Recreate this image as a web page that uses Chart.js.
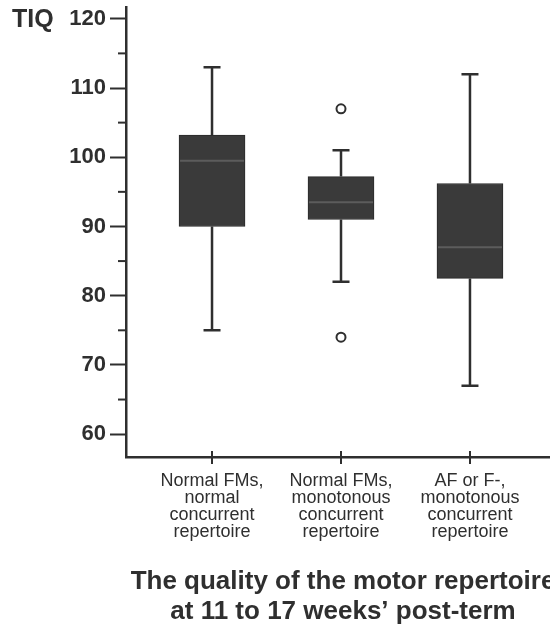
<!DOCTYPE html>
<html>
<head>
<meta charset="utf-8">
<script src="https://cdn.jsdelivr.net/npm/chart.js@4/dist/chart.umd.min.js"></script>
<style>
html,body{margin:0;padding:0;background:#fff;overflow:hidden;}
#wrap{width:572px;height:629px;}
</style>
</head>
<body>
<div id="wrap"><canvas id="c" width="572" height="629"></canvas></div>
<script>
// ---- data ----
const categories = [
  ["Normal FMs,", "normal", "concurrent", "repertoire"],
  ["Normal FMs,", "monotonous", "concurrent", "repertoire"],
  ["AF or F-,", "monotonous", "concurrent", "repertoire"]
];
const whiskerLow  = [75, 82, 67];
const q1          = [90, 91, 82.5];
const medians     = [99.5, 93.5, 87];
const q3          = [103.2, 97.2, 96.2];
const whiskerHigh = [113, 101, 112];
const outlierCategory = [1, 1];
const outlierValues   = [107, 74];
const yTicks      = [60, 70, 80, 90, 100, 110, 120];
const yMinorTicks = [65, 75, 85, 95, 105, 115];
const yLabel = "TIQ";
const xTitle = ["The quality of the motor repertoire", "at 11 to 17 weeks\u2019 post-term"];

const FONT = "'Liberation Sans', Arial, Helvetica, sans-serif";
const INK = '#2f2f2f';

const boxPlugin = {
  id: 'boxExtras',
  beforeDatasetsDraw(chart) {
    const {ctx, scales: {x, y}} = chart;
    ctx.save();
    ctx.strokeStyle = INK;
    ctx.lineWidth = 2.5;
    const capHalf = 8.5;
    categories.forEach((_, i) => {
      const px = x.getPixelForValue(i);
      const yl = y.getPixelForValue(whiskerLow[i]);
      const yh = y.getPixelForValue(whiskerHigh[i]);
      const y1 = y.getPixelForValue(q1[i]);
      const y3 = y.getPixelForValue(q3[i]);
      ctx.beginPath();
      ctx.moveTo(px, yh); ctx.lineTo(px, y3);
      ctx.moveTo(px, y1); ctx.lineTo(px, yl);
      ctx.moveTo(px - capHalf, yh); ctx.lineTo(px + capHalf, yh);
      ctx.moveTo(px - capHalf, yl); ctx.lineTo(px + capHalf, yl);
      ctx.stroke();
    });
    ctx.restore();
  },
  afterDatasetsDraw(chart) {
    const {ctx, scales: {x, y}} = chart;
    const meta = chart.getDatasetMeta(0);
    ctx.save();
    ctx.strokeStyle = '#5c5c5c';
    ctx.lineWidth = 2;
    meta.data.forEach((bar, i) => {
      const half = bar.width / 2;
      const py = y.getPixelForValue(medians[i]);
      ctx.beginPath();
      ctx.moveTo(bar.x - half + 1, py); ctx.lineTo(bar.x + half - 1, py);
      ctx.stroke();
    });
    ctx.restore();
  },
  afterDraw(chart) {
    const {ctx, scales: {x, y}, chartArea} = chart;
    ctx.save();
    ctx.strokeStyle = INK;
    ctx.lineWidth = 2;
    // minor y ticks
    yMinorTicks.forEach(v => {
      const py = y.getPixelForValue(v);
      ctx.beginPath();
      ctx.moveTo(chartArea.left - 8, py); ctx.lineTo(chartArea.left, py);
      ctx.stroke();
    });
    // x category ticks crossing the axis
    categories.forEach((_, i) => {
      const px = x.getPixelForValue(i);
      ctx.beginPath();
      ctx.moveTo(px, chartArea.bottom - 6); ctx.lineTo(px, chartArea.bottom + 7);
      ctx.stroke();
    });
    // y label
    ctx.fillStyle = INK;
    ctx.font = "bold 25px " + FONT;
    ctx.textAlign = 'left';
    ctx.textBaseline = 'middle';
    ctx.fillText(yLabel, 12, y.getPixelForValue(yTicks[yTicks.length - 1]) + 1);
    ctx.restore();
  }
};

new Chart(document.getElementById('c'), {
  type: 'bar',
  data: {
    datasets: [
      {
        type: 'bar',
        data: categories.map((_, i) => ({x: i, y: [q1[i], q3[i]]})),
        backgroundColor: '#3a3a3a',
        borderColor: '#2a2a2a',
        borderWidth: 1,
        borderSkipped: false,
        barThickness: 66
      },
      {
        type: 'scatter',
        data: outlierCategory.map((c, i) => ({x: c, y: outlierValues[i]})),
        pointStyle: 'circle',
        pointRadius: 4.5,
        borderWidth: 2,
        borderColor: INK,
        backgroundColor: '#fff'
      }
    ]
  },
  options: {
    responsive: false,
    animation: false,
    devicePixelRatio: 1,
    layout: {padding: {top: 7, right: 12, left: 0, bottom: 0}},
    plugins: {legend: {display: false}, tooltip: {enabled: false}, title: {display: false}},
    scales: {
      x: {
        type: 'linear',
        offset: false,
        min: -0.667,
        max: 2.698,
        afterBuildTicks: s => { s.ticks = categories.map((_, i) => ({value: i})); },
        afterFit: s => { s.height = 172; s.paddingLeft = 0; s.paddingRight = 0; },
        grid: {display: false, drawTicks: false, offset: false},
        border: {display: true, color: INK, width: 2.5},
        ticks: {
          callback: v => categories[v],
          font: {family: FONT, size: 18, lineHeight: 0.95},
          color: INK,
          padding: 15,
          maxRotation: 0,
          autoSkip: false
        },
        title: {
          display: true,
          text: xTitle,
          font: {family: FONT, size: 26, weight: 'bold', lineHeight: 1.15},
          color: INK,
          padding: {top: 0, bottom: 2}
        }
      },
      y: {
        type: 'linear',
        min: 56.7,
        max: 121.7,
        afterBuildTicks: s => { s.ticks = yTicks.map(v => ({value: v})); },
        afterFit: s => { s.width = 126; s.paddingTop = 0; s.paddingBottom = 0; },
        grid: {drawOnChartArea: false, drawTicks: true, tickLength: 16, tickColor: INK, tickWidth: 2},
        border: {display: true, color: INK, width: 2.5},
        ticks: {
          font: {family: FONT, size: 22, weight: 'bold'},
          color: INK,
          padding: 4
        }
      }
    }
  },
  plugins: [boxPlugin]
});
</script>
</body>
</html>
